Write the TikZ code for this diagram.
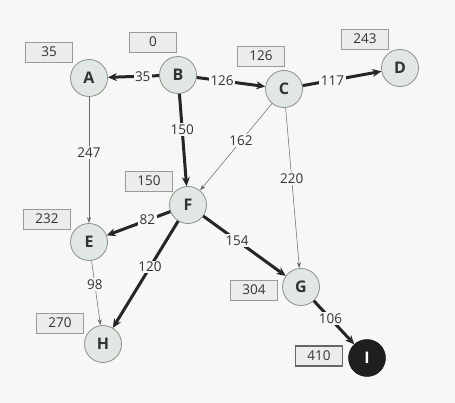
\documentclass[tikz,border=0pt]{standalone}
\usepackage{fontspec}
\setmainfont{Open Sans}
\usetikzlibrary{arrows.meta}
\definecolor{bg}{HTML}{F7F7F5}
\definecolor{nodefill}{HTML}{E1E7E2}
\definecolor{nodeline}{HTML}{8C918C}
\definecolor{txt}{HTML}{333333}
\definecolor{boxfill}{HTML}{ECECEA}
\definecolor{boxline}{HTML}{9A9A9A}
\tikzset{
  city/.style={circle, draw=nodeline, line width=0.8pt, fill=nodefill, minimum size=37pt, inner sep=0pt, font=\fontsize{16}{16}\selectfont\bfseries, text=txt},
  goal/.style={circle, draw=black, fill=black!88, minimum size=37pt, inner sep=0pt, font=\fontsize{16}{16}\selectfont\bfseries, text=white},
  distbox/.style={draw=boxline, line width=0.7pt, fill=boxfill, minimum width=47pt, minimum height=20pt, inner sep=0pt, font=\fontsize{13.5}{13.5}\selectfont, text=txt},
  goalbox/.style={distbox, draw=black!60, line width=1.8pt},
  thick edge/.style={line width=3pt, draw=black!85, -{Stealth[length=9pt,width=8pt]}},
  thin edge/.style={line width=0.5pt, draw=black!60, -{Stealth[length=6pt,width=4pt]}},
  wlab/.style={fill=bg, inner sep=1.5pt, font=\fontsize{13.5}{13.5}\selectfont, text=txt},
}
\begin{document}
\begin{tikzpicture}[x=1pt,y=-1pt]
\fill[bg] (0,0) rectangle (455,403);
\useasboundingbox (0,0) rectangle (455,403);
\node[city] (A) at (89,78) {A};
\node[city] (B) at (178,75) {B};
\node[city] (C) at (284,89) {C};
\node[city] (D) at (400,68) {D};
\node[city] (F) at (188,205) {F};
\node[city] (E) at (89,242) {E};
\node[city] (H) at (103,344) {H};
\node[city] (G) at (301,287) {G};
\node[goal] (I) at (367,358) {I};

\node[distbox] (dA) at (49,52) {35};
\node[distbox] (dB) at (153,42) {0};
\node[distbox] (dC) at (261,56) {126};
\node[distbox] (dD) at (365,39) {243};
\node[distbox] (dF) at (149,181) {150};
\node[distbox] (dE) at (47,219) {232};
\node[distbox] (dH) at (60,323) {270};
\node[distbox] (dG) at (254,290) {304};
\node[goalbox] (dI) at (319,356) {410};

\draw[thin edge] (A) -- node[wlab, pos=0.44] {247} (E);
\draw[thin edge] (C) -- node[wlab, pos=0.43] {162} (F);
\draw[thin edge] (C) -- node[wlab, pos=0.44] {220} (G);
\draw[thin edge] (E) -- node[wlab, pos=0.37] {98} (H);

\draw[thick edge] (B) -- node[wlab, pos=0.32] {35} (A);
\draw[thick edge] (B) -- node[wlab, pos=0.37] {126} (C);
\draw[thick edge] (C) -- node[wlab, pos=0.38] {117} (D);
\draw[thick edge] (B) -- node[wlab, pos=0.39] {150} (F);
\draw[thick edge] (F) -- node[wlab, pos=0.36] {82} (E);
\draw[thick edge] (F) -- node[wlab, pos=0.43] {120} (H);
\draw[thick edge] (F) -- node[wlab, pos=0.41] {154} (G);
\draw[thick edge] (G) -- node[wlab, pos=0.41] {106} (I);
\end{tikzpicture}
\end{document}
